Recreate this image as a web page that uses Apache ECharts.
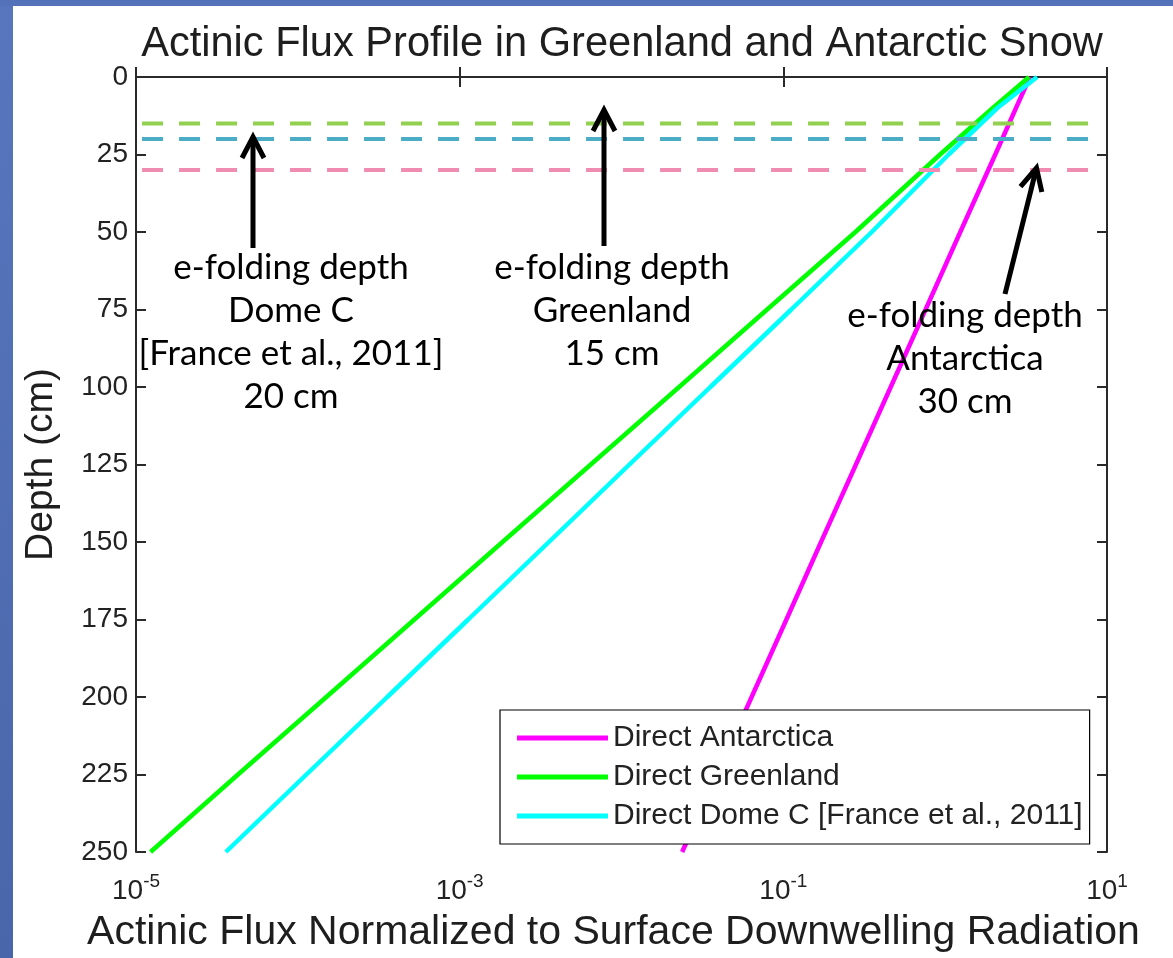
<!DOCTYPE html>
<html>
<head>
<meta charset="utf-8">
<title>Actinic Flux Profile in Greenland and Antarctic Snow</title>
<script src="https://cdn.jsdelivr.net/npm/echarts@6/dist/echarts.min.js"></script>
<style>
  html, body { margin: 0; padding: 0; background: #ffffff; }
  #chart { width: 1173px; height: 958px; }
</style>
</head>
<body>
<div id="chart"></div>
<script>
// Depth below the snow surface (cm), shared by all three profiles
const depthCm = [0, 10, 25, 50, 75, 100, 125, 150, 175, 200, 225, 250];

// Actinic flux normalized to surface downwelling radiation
const fluxAntarctica = [3.34, 2.74, 2.04, 1.24, 0.757, 0.461, 0.281, 0.171, 0.1045, 0.0637, 0.0388, 0.0237];
const fluxGreenland  = [3.3, 1.97, 0.93, 0.279, 0.0794, 0.0227, 0.00646, 0.00184, 5.25e-4, 1.5e-4, 4.27e-5, 1.23e-5];
const fluxDomeC      = [3.7, 2.1, 1.05, 0.352, 0.112, 0.0354, 0.0112, 0.00356, 0.00113, 3.57e-4, 1.13e-4, 3.59e-5];

const seriesNames = ['Direct Antarctica', 'Direct Greenland', 'Direct Dome C [France et al., 2011]'];

// e-folding depths (cm): Greenland, Dome C, Antarctica
const efoldNames = ['Greenland', 'Dome C', 'Antarctica'];
const efoldDepthCm = [15, 20, 30];
// horizontal extent of the e-folding reference lines (flux units)
const efoldSpan = [1.09e-5, 8.6];

// axis ticks
const fluxTicks = [1e-5, 1e-3, 1e-1, 10];
const depthMin = 0, depthMax = 250, depthStep = 25;

const profileColors = ['#ff00ff', '#00ff00', '#00ffff'];
const efoldColors = ['#92d050', '#4bacc6', '#f08cb1'];

const AXIS_FONT = "'Liberation Sans', Arial, Helvetica, sans-serif";
const NOTE_FONT = "Lato, 'Open Sans', sans-serif";

function profile(flux) {
  return depthCm.map((d, i) => [flux[i], d]);
}

const profiles = [fluxAntarctica, fluxGreenland, fluxDomeC].map((flux, i) => ({
  name: seriesNames[i],
  type: 'line',
  data: profile(flux),
  symbol: 'none',
  smooth: false,
  z: 3,
  lineStyle: { color: profileColors[i], width: 4.5 },
  itemStyle: { color: profileColors[i] }
}));

const efoldLines = efoldDepthCm.map((d, i) => ({
  name: 'e-folding ' + efoldNames[i],
  type: 'line',
  data: [[efoldSpan[0], d], [efoldSpan[1], d]],
  symbol: 'none',
  z: 5,
  silent: true,
  lineStyle: { color: efoldColors[i], width: 4, type: [21, 16] }
}));

// text blocks of the annotations
function noteText(lines, cx, y0) {
  return lines.map((t, k) => ({
    type: 'text',
    z: 20,
    style: {
      text: t,
      x: cx,
      y: y0 + k * 43,
      textAlign: 'center',
      textVerticalAlign: 'middle',
      font: '35px ' + NOTE_FONT,
      fill: '#000000'
    }
  }));
}

function arrow(tail, tip, headLen, headHalf) {
  const dx = tip[0] - tail[0], dy = tip[1] - tail[1];
  const len = Math.sqrt(dx * dx + dy * dy);
  const ux = dx / len, uy = dy / len;
  const bx = tip[0] - ux * headLen, by = tip[1] - uy * headLen;
  const px = -uy, py = ux;
  const style = { stroke: '#000000', lineWidth: 5, fill: null, lineCap: 'butt', lineJoin: 'miter' };
  return [
    { type: 'polyline', z: 20, shape: { points: [tail, [tip[0] - ux * 2, tip[1] - uy * 2]] }, style },
    { type: 'polyline', z: 20, shape: { points: [[bx + px * headHalf, by + py * headHalf], tip, [bx - px * headHalf, by - py * headHalf]] }, style }
  ];
}

const chart = echarts.init(document.getElementById('chart'), null, { renderer: 'canvas' });

const axisLineStyle = { color: '#2a2a2a', width: 2 };

chart.setOption({
  backgroundColor: '#ffffff',
  animation: false,
  title: {
    text: 'Actinic Flux Profile in Greenland and Antarctic Snow',
    left: 617,
    top: 19,
    textAlign: 'center',
    textStyle: { fontFamily: AXIS_FONT, fontSize: 41.6, fontWeight: 'normal', color: '#1e1e1e' }
  },
  grid: { left: 136, top: 77, right: 66, bottom: 105, containLabel: false },
  legend: {
    data: seriesNames,
    orient: 'vertical',
    left: 500,
    top: 710,
    padding: [13, 7, 13, 17],
    itemGap: 9,
    itemWidth: 91,
    itemHeight: 5,
    itemTextGap: 11,
    icon: 'rect',
    backgroundColor: '#ffffff',
    borderColor: '#000000',
    borderWidth: 1.2,
    borderRadius: 0,
    textStyle: { fontFamily: AXIS_FONT, fontSize: 30, color: '#222222' }
  },
  xAxis: [
    {
      type: 'log',
      logBase: 10,
      min: fluxTicks[0],
      max: fluxTicks[fluxTicks.length - 1],
      position: 'bottom',
      name: 'Actinic Flux Normalized to Surface Downwelling Radiation',
      nameLocation: 'middle',
      nameGap: 60,
      nameTextStyle: { fontFamily: AXIS_FONT, fontSize: 41, color: '#1e1e1e', padding: [0, 16, 0, 0] },
      axisLine: { show: true, lineStyle: axisLineStyle },
      axisTick: { show: true, inside: true, length: 10, customValues: fluxTicks, lineStyle: axisLineStyle },
      splitLine: { show: false },
      minorTick: { show: false },
      axisLabel: {
        customValues: fluxTicks,
        margin: 20,
        showMinLabel: true,
        showMaxLabel: true,
        formatter: function (v) {
          const e = Math.round(Math.log10(v));
          return '{b|10}{s|' + e + '}';
        },
        rich: {
          b: { fontFamily: AXIS_FONT, fontSize: 28, color: '#222222', lineHeight: 33, verticalAlign: 'bottom' },
          s: { fontFamily: AXIS_FONT, fontSize: 19, color: '#222222', lineHeight: 33, verticalAlign: 'top' }
        }
      }
    },
    {
      type: 'log',
      logBase: 10,
      min: fluxTicks[0],
      max: fluxTicks[fluxTicks.length - 1],
      position: 'top',
      axisLine: { show: true, lineStyle: axisLineStyle },
      axisTick: { show: true, inside: true, length: 10, customValues: fluxTicks, lineStyle: axisLineStyle },
      axisLabel: { show: false },
      splitLine: { show: false }
    }
  ],
  yAxis: [
    {
      type: 'value',
      inverse: true,
      min: depthMin,
      max: depthMax,
      interval: depthStep,
      position: 'left',
      name: 'Depth (cm)',
      nameLocation: 'middle',
      nameRotate: 90,
      nameGap: 75,
      nameTextStyle: { fontFamily: AXIS_FONT, fontSize: 39, color: '#1e1e1e' },
      axisLine: { show: true, lineStyle: axisLineStyle },
      axisTick: { show: true, inside: true, length: 10, lineStyle: axisLineStyle },
      splitLine: { show: false },
      axisLabel: { margin: 8, fontFamily: AXIS_FONT, fontSize: 28, color: '#222222' }
    },
    {
      type: 'value',
      inverse: true,
      min: depthMin,
      max: depthMax,
      interval: depthStep,
      position: 'right',
      axisLine: { show: true, lineStyle: axisLineStyle },
      axisTick: { show: true, inside: true, length: 10, lineStyle: axisLineStyle },
      axisLabel: { show: false },
      splitLine: { show: false }
    }
  ],
  series: profiles.concat(efoldLines),
  graphic: [
    // slide frame strips
    { type: 'rect', z: 0, shape: { x: 0, y: 0, width: 13, height: 958 },
      style: { fill: new echarts.graphic.LinearGradient(0, 0, 0, 1, [{ offset: 0, color: '#5776bd' }, { offset: 1, color: '#4a66aa' }]) } },
    { type: 'rect', z: 0, shape: { x: 0, y: 0, width: 1173, height: 6 }, style: { fill: '#5472b9' } }
  ]
  .concat(arrow([253, 248], [253, 137], 21, 11))
  .concat(arrow([604, 246], [604, 110], 21, 11))
  .concat(arrow([1005, 294], [1036.5, 168], 22, 11))
  .concat(noteText(['e-folding depth', 'Dome C', '[France et al., 2011]', '20 cm'], 291, 268))
  .concat(noteText(['e-folding depth', 'Greenland', '15 cm'], 612, 268))
  .concat(noteText(['e-folding depth', 'Antarctica', '30 cm'], 965, 316))
});
</script>
</body>
</html>
